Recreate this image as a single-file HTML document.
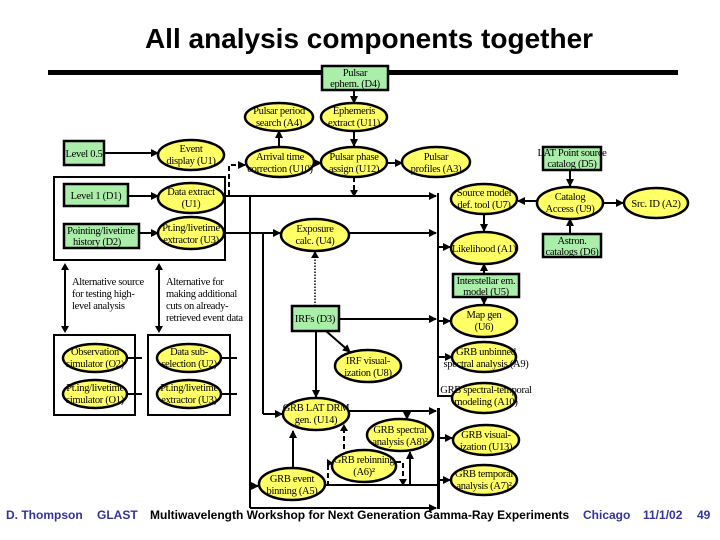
<!DOCTYPE html>
<html><head><meta charset="utf-8"><style>
html,body{margin:0;padding:0;background:#fff;width:720px;height:540px;overflow:hidden}
svg{display:block}
.t{font-family:"Liberation Serif",serif;font-size:10.5px;fill:#000;text-anchor:middle;letter-spacing:-0.3px}
.l{font-family:"Liberation Serif",serif;font-size:10.5px;fill:#000;letter-spacing:-0.3px}
.e{fill:#ffff66;stroke:#000;stroke-width:2.5}
.r{fill:#aaeeaa;stroke:#000;stroke-width:2.5}
.w{stroke:#000;stroke-width:2;fill:none}
.d{stroke:#000;stroke-width:2;fill:none;stroke-dasharray:5,3}
.f{font-family:"Liberation Sans",sans-serif;font-size:12px;font-weight:bold}
</style></head><body>
<svg width="720" height="540" viewBox="0 0 720 540" xmlns="http://www.w3.org/2000/svg">
<defs><marker id="a" markerWidth="8" markerHeight="8" refX="7" refY="4" orient="auto" markerUnits="userSpaceOnUse"><path d="M0,0 L8,4 L0,8 z" fill="#000"/></marker></defs>
<text x="369" y="48" style="font-family:'Liberation Sans',sans-serif;font-size:28px;font-weight:bold;text-anchor:middle">All analysis components together</text>
<rect x="48" y="70" width="630" height="5" fill="#000"/>

<g class="w">
<line x1="354" y1="90" x2="354" y2="103" marker-end="url(#a)"/>
<line x1="354" y1="131" x2="354" y2="146" marker-end="url(#a)"/>
<line x1="279" y1="146" x2="279" y2="131" marker-end="url(#a)"/>
<line x1="314" y1="163" x2="321" y2="163" marker-end="url(#a)"/>
<line x1="387" y1="163" x2="402" y2="163" marker-end="url(#a)"/>
<line x1="104" y1="153" x2="158" y2="153" marker-end="url(#a)"/>
<line x1="128" y1="196" x2="158" y2="196" marker-end="url(#a)"/>
<line x1="139" y1="233" x2="158" y2="233" marker-end="url(#a)"/>
<line x1="225" y1="196" x2="436" y2="196" marker-end="url(#a)"/>
<line x1="225" y1="233" x2="280" y2="233" marker-end="url(#a)"/>
<line x1="349" y1="233" x2="436" y2="233" marker-end="url(#a)"/>
<line x1="438" y1="193" x2="438" y2="397"/>
<line x1="438" y1="247" x2="450" y2="247" marker-end="url(#a)"/>
<line x1="438" y1="321" x2="450" y2="321" marker-end="url(#a)"/>
<line x1="438" y1="357" x2="452" y2="357" marker-end="url(#a)"/>
<line x1="438" y1="396" x2="452" y2="396"/>
<line x1="570" y1="170" x2="570" y2="186" marker-end="url(#a)"/>
<line x1="570" y1="234" x2="570" y2="219" marker-end="url(#a)"/>
<line x1="537" y1="201" x2="518" y2="201" marker-end="url(#a)"/>
<line x1="603" y1="203" x2="623" y2="203" marker-end="url(#a)"/>
<line x1="484" y1="214" x2="484" y2="231" marker-end="url(#a)"/>
<line x1="484" y1="274" x2="484" y2="264" marker-end="url(#a)"/>
<line x1="484" y1="297" x2="484" y2="304" marker-end="url(#a)"/>
<line x1="250" y1="197" x2="250" y2="508"/>
<line x1="250" y1="508" x2="436" y2="508" marker-end="url(#a)"/>
<line x1="250" y1="486" x2="258" y2="486" marker-end="url(#a)"/>
<line x1="263" y1="234" x2="263" y2="414"/>
<line x1="263" y1="414" x2="282" y2="414" marker-end="url(#a)"/>
<line x1="339" y1="319" x2="436" y2="319" marker-end="url(#a)"/>
<line x1="326" y1="331" x2="350" y2="352" marker-end="url(#a)"/>
<line x1="316" y1="331" x2="316" y2="397" marker-end="url(#a)"/>
<line x1="349" y1="411" x2="436" y2="411" marker-end="url(#a)"/>
<line x1="407" y1="411" x2="407" y2="419" marker-end="url(#a)"/>
<line x1="293" y1="467" x2="293" y2="431" marker-end="url(#a)"/>
<line x1="325" y1="485" x2="438" y2="485"/>
<line x1="410" y1="485" x2="410" y2="452" marker-end="url(#a)"/>
<line x1="438" y1="438" x2="452" y2="438" marker-end="url(#a)"/>
<line x1="438" y1="480" x2="450" y2="480" marker-end="url(#a)"/>
<line x1="65" y1="266" x2="65" y2="330"/>
<line x1="159" y1="266" x2="159" y2="330"/>
<line x1="127" y1="358" x2="142" y2="358"/><line x1="127" y1="394" x2="142" y2="394"/>
<line x1="221" y1="358" x2="237" y2="358"/><line x1="221" y1="394" x2="237" y2="394"/>
</g>
<rect x="437" y="408" width="3" height="101" fill="#000"/>
<path d="M65,263 l-4,7 h8 z M65,333 l-4,-7 h8 z M159,263 l-4,7 h8 z M159,333 l-4,-7 h8 z" fill="#000"/>
<line x1="315" y1="306" x2="315" y2="258" stroke="#000" stroke-width="1.5" stroke-dasharray="1.5,1.5"/>
<path d="M315,251 l-4,7 h8 z" fill="#000"/>
<g class="d">
<path d="M229,195 V165 H238"/>
<line x1="238" y1="165" x2="245" y2="165" marker-end="url(#a)" style="stroke-dasharray:none"/>
<line x1="354" y1="177" x2="354" y2="190"/>
<path d="M328,486 V463"/>
<path d="M344,449 V431"/>
<path d="M396,462 H403 V480"/>
</g>
<path d="M354,197 l-4,-7 h8 z M344,424 l-4,7 h8 z M403,486 l-4,-7 h8 z M333,463 l-6,-4 v8 z" fill="#000"/>

<rect x="54" y="177" width="171" height="83" class="w"/>
<rect x="54" y="335" width="81" height="80" class="w"/>
<rect x="148" y="335" width="82" height="80" class="w"/>

<rect x="322" y="66" width="66" height="24" class="r"/>
<text class="t" x="355" y="76">Pulsar</text><text class="t" x="355" y="87">ephem. (D4)</text>
<rect x="64" y="141" width="40" height="24" class="r"/>
<text class="t" x="84" y="157">Level 0.5</text>
<rect x="64" y="184" width="64" height="22" class="r"/>
<text class="t" x="96" y="199">Level 1 (D1)</text>
<rect x="64" y="224" width="75" height="24" class="r"/>
<text class="t" x="101" y="234">Pointing/livetime</text><text class="t" x="97" y="245">history (D2)</text>
<rect x="543" y="147" width="58" height="23" class="r"/>
<text class="t" x="572" y="156">LAT Point source</text><text class="t" x="572" y="167">catalog (D5)</text>
<rect x="543" y="234" width="58" height="23" class="r"/>
<text class="t" x="572" y="244">Astron.</text><text class="t" x="572" y="255">catalogs (D6)</text>
<rect x="453" y="274" width="66" height="23" class="r"/>
<text class="t" x="486" y="284">Interstellar em.</text><text class="t" x="486" y="295">model (U5)</text>
<rect x="292" y="306" width="47" height="25" class="r"/>
<text class="t" x="315" y="322">IRFs (D3)</text>

<g>
<ellipse cx="279" cy="117" rx="34" ry="14" class="e"/><text class="t" x="279" y="114">Pulsar period</text><text class="t" x="279" y="126">search (A4)</text>
<ellipse cx="354" cy="117" rx="33" ry="14" class="e"/><text class="t" x="354" y="114">Ephemeris</text><text class="t" x="354" y="126">extract (U11)</text>
<ellipse cx="280" cy="162" rx="34" ry="15" class="e"/><text class="t" x="280" y="160">Arrival time</text><text class="t" x="280" y="172">correction (U10)</text>
<ellipse cx="354" cy="162" rx="33" ry="15" class="e"/><text class="t" x="354" y="160">Pulsar phase</text><text class="t" x="354" y="172">assign (U12)</text>
<ellipse cx="436" cy="162" rx="34" ry="15" class="e"/><text class="t" x="436" y="160">Pulsar</text><text class="t" x="436" y="172">profiles (A3)</text>
<ellipse cx="191" cy="155" rx="33" ry="15" class="e"/><text class="t" x="191" y="152">Event</text><text class="t" x="191" y="164">display (U1)</text>
<ellipse cx="191" cy="198" rx="33" ry="15" class="e"/><text class="t" x="191" y="195">Data extract</text><text class="t" x="191" y="207">(U1)</text>
<ellipse cx="191" cy="233" rx="33" ry="16" class="e"/><text class="t" x="191" y="231">Pt.ing/livetime</text><text class="t" x="191" y="243">extractor (U3)</text>
<ellipse cx="315" cy="235" rx="34" ry="16" class="e"/><text class="t" x="315" y="232">Exposure</text><text class="t" x="315" y="244">calc. (U4)</text>
<ellipse cx="484" cy="199" rx="33" ry="15" class="e"/><text class="t" x="484" y="196">Source model</text><text class="t" x="484" y="208">def. tool (U7)</text>
<ellipse cx="570" cy="203" rx="33" ry="16" class="e"/><text class="t" x="570" y="200">Catalog</text><text class="t" x="570" y="212">Access (U9)</text>
<ellipse cx="656" cy="203" rx="32" ry="15" class="e"/><text class="t" x="656" y="207">Src. ID (A2)</text>
<ellipse cx="484" cy="248" rx="33" ry="16" class="e"/><text class="t" x="484" y="252">Likelihood (A1)</text>
<ellipse cx="484" cy="321" rx="33" ry="16" class="e"/><text class="t" x="484" y="318">Map gen</text><text class="t" x="484" y="330">(U6)</text>
<ellipse cx="484" cy="357" rx="32" ry="15" class="e"/><text class="t" x="486" y="355">GRB unbinned</text><text class="t" x="486" y="367">spectral analysis (A9)</text>
<ellipse cx="484" cy="398" rx="32" ry="15" class="e"/><text class="t" x="486" y="393">GRB spectral-temporal</text><text class="t" x="486" y="405">modeling (A10)</text>
<ellipse cx="486" cy="440" rx="33" ry="15" class="e"/><text class="t" x="486" y="438">GRB visual-</text><text class="t" x="486" y="450">ization (U13)</text>
<ellipse cx="484" cy="480" rx="33" ry="15" class="e"/><text class="t" x="484" y="477">GRB temporal</text><text class="t" x="484" y="489">analysis (A7)²</text>
<ellipse cx="368" cy="366" rx="33" ry="16" class="e"/><text class="t" x="368" y="364">IRF visual-</text><text class="t" x="368" y="376">ization (U8)</text>
<ellipse cx="316" cy="414" rx="33" ry="16" class="e"/><text class="t" x="316" y="411">GRB LAT DRM</text><text class="t" x="316" y="423">gen. (U14)</text>
<ellipse cx="400" cy="435" rx="33" ry="16" class="e"/><text class="t" x="400" y="433">GRB spectral</text><text class="t" x="400" y="445">analysis (A8)²</text>
<ellipse cx="364" cy="466" rx="32" ry="16" class="e"/><text class="t" x="364" y="463">GRB rebinning</text><text class="t" x="364" y="475">(A6)²</text>
<ellipse cx="292" cy="484" rx="33" ry="16" class="e"/><text class="t" x="292" y="482">GRB event</text><text class="t" x="292" y="494">binning (A5)</text>
<ellipse cx="95" cy="358" rx="32" ry="14" class="e"/><text class="t" x="95" y="355">Observation</text><text class="t" x="95" y="367">simulator (O2)</text>
<ellipse cx="95" cy="394" rx="32" ry="14" class="e"/><text class="t" x="95" y="391">Pt.ing/livetime</text><text class="t" x="95" y="403">simulator (O1)</text>
<ellipse cx="189" cy="358" rx="32" ry="14" class="e"/><text class="t" x="189" y="355">Data sub-</text><text class="t" x="189" y="367">selection (U2)</text>
<ellipse cx="189" cy="394" rx="32" ry="14" class="e"/><text class="t" x="189" y="391">Pt.ing/livetime</text><text class="t" x="189" y="403">extractor (U3)</text>
</g>
<text class="l" x="72" y="285">Alternative source</text>
<text class="l" x="72" y="297">for testing high-</text>
<text class="l" x="72" y="309">level analysis</text>
<text class="l" x="166" y="285">Alternative for</text>
<text class="l" x="166" y="297">making additional</text>
<text class="l" x="166" y="309">cuts on already-</text>
<text class="l" x="166" y="321">retrieved event data</text>

<text class="f" x="6" y="519" fill="#333399">D. Thompson</text>
<text class="f" x="97" y="519" fill="#333399">GLAST</text>
<text class="f" x="150" y="519" fill="#000">Multiwavelength Workshop for Next Generation Gamma-Ray Experiments</text>
<text class="f" x="583" y="519" fill="#333399">Chicago</text>
<text class="f" x="643" y="519" fill="#333399">11/1/02</text>
<text class="f" x="697" y="519" fill="#333399">49</text>
</svg>
</body></html>
